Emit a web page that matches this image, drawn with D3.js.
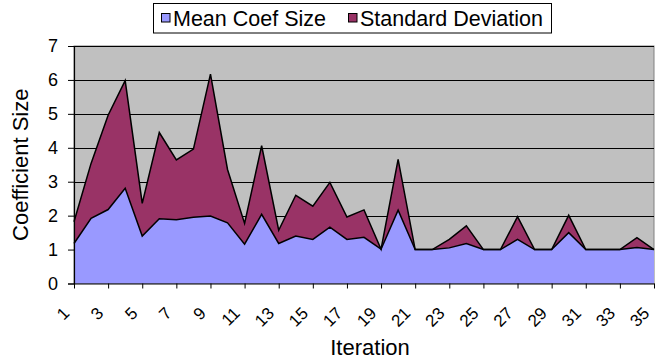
<!DOCTYPE html>
<html>
<head>
<meta charset="utf-8">
<script src="https://cdn.jsdelivr.net/npm/d3@7"></script>
<style>
  html, body { margin: 0; padding: 0; background: #ffffff; }
  svg { display: block; font-family: "Liberation Sans", Arial, sans-serif; }
</style>
</head>
<body>
<svg id="chart" width="665" height="362"></svg>
<script>
// Iterations 1..35
const iterations = d3.range(1, 36);

// Mean coefficient size per iteration
const meanCoefSize = [1.18, 1.92, 2.18, 2.81, 1.40, 1.91, 1.88, 1.95, 1.99, 1.79,
                      1.16, 2.04, 1.18, 1.40, 1.30, 1.66, 1.30, 1.36, 1.01, 2.16,
                      1.00, 1.00, 1.05, 1.18, 1.00, 1.00, 1.30, 1.00, 1.00, 1.50,
                      1.00, 1.00, 1.00, 1.06, 1.00];

// Standard deviation, stacked on top of the mean
const standardDeviation = [0.64, 1.62, 2.78, 3.17, 0.96, 2.54, 1.76, 2.01, 4.18, 1.57,
                           0.61, 2.02, 0.39, 1.20, 0.98, 1.32, 0.66, 0.81, 0.00, 1.50,
                           0.00, 0.00, 0.25, 0.52, 0.00, 0.00, 0.67, 0.00, 0.00, 0.51,
                           0.00, 0.00, 0.00, 0.29, 0.00];

const seriesNames = ["Mean Coef Size", "Standard Deviation"];
const seriesColors = ["#9999FF", "#993366"];
const yTicks = [0, 1, 2, 3, 4, 5, 6, 7];
const xTickLabels = iterations.filter(d => d % 2 === 1);

const svg = d3.select("#chart");
const plot = { left: 74, right: 654, top: 46, bottom: 283.5 };

const x = d3.scalePoint().domain(iterations).range([plot.left, plot.right]);
const y = d3.scaleLinear().domain([0, 7]).range([plot.bottom, plot.top]);

// Plot background
svg.append("rect")
  .attr("x", plot.left).attr("y", plot.top)
  .attr("width", plot.right - plot.left).attr("height", plot.bottom - plot.top)
  .attr("fill", "#C0C0C0")
  .attr("stroke", "#808080").attr("stroke-width", 1);

// Horizontal gridlines
svg.append("g")
  .selectAll("line")
  .data(yTicks.filter(v => v > 0))
  .join("line")
  .attr("x1", plot.left).attr("x2", plot.right)
  .attr("y1", d => Math.round(y(d)) + 0.5).attr("y2", d => Math.round(y(d)) + 0.5)
  .attr("stroke", "#000000").attr("stroke-width", 1);

// Stacked data
const rows = iterations.map((it, i) => ({
  iteration: it,
  [seriesNames[0]]: meanCoefSize[i],
  [seriesNames[1]]: standardDeviation[i]
}));
const stacked = d3.stack().keys(seriesNames)(rows);

const area = d3.area()
  .x(d => x(d.data.iteration))
  .y0(d => y(d[0]))
  .y1(d => y(d[1]));

const topLine = d3.line()
  .x(d => x(d.data.iteration))
  .y(d => y(d[1]));

// Draw the upper band first, then the mean area
[1, 0].forEach(k => {
  svg.append("path")
    .datum(stacked[k])
    .attr("d", area)
    .attr("fill", seriesColors[k])
    .attr("stroke", "none");
});
[1, 0].forEach(k => {
  svg.append("path")
    .datum(stacked[k])
    .attr("d", topLine)
    .attr("fill", "none")
    .attr("stroke", "#000000")
    .attr("stroke-width", 1.5)
    .attr("stroke-linejoin", "miter");
});

// Y axis
const yAxis = svg.append("g")
  .attr("transform", `translate(${plot.left},0)`)
  .call(d3.axisLeft(y).tickValues(yTicks).tickSize(6).tickPadding(10).tickFormat(d3.format("d")));
yAxis.select(".domain").attr("stroke", "#000").attr("stroke-width", 1.2);
yAxis.selectAll(".tick line").attr("stroke", "#000");
yAxis.selectAll(".tick text")
  .attr("font-size", 18)
  .attr("fill", "#000")
  .attr("font-family", "Liberation Sans, Arial, sans-serif");

// X axis
const xAxis = svg.append("g")
  .attr("transform", `translate(0,${plot.bottom})`)
  .call(d3.axisBottom(x).tickValues(xTickLabels).tickSize(5).tickSizeOuter(0));
xAxis.select(".domain").attr("stroke", "#000").attr("stroke-width", 1.2);
xAxis.selectAll(".tick line").attr("stroke", "#000");
xAxis.selectAll(".tick text")
  .attr("font-size", 17)
  .attr("fill", "#000")
  .attr("font-family", "Liberation Sans, Arial, sans-serif")
  .attr("text-anchor", "end")
  .attr("dy", null)
  .attr("y", null)
  .attr("transform", "translate(-8,27) rotate(-45)")
  .attr("dominant-baseline", "central");

// Axis titles
svg.append("text")
  .attr("transform", `translate(28,${(plot.top + plot.bottom) / 2}) rotate(-90)`)
  .attr("text-anchor", "middle")
  .attr("font-size", 22)
  .attr("fill", "#000")
  .text("Coefficient Size");

svg.append("text")
  .attr("x", (plot.left + plot.right) / 2 + 6)
  .attr("y", 355)
  .attr("text-anchor", "middle")
  .attr("font-size", 22)
  .attr("fill", "#000")
  .text("Iteration");

// Legend
const legend = svg.append("g");
legend.append("rect")
  .attr("x", 153.5).attr("y", 3.5).attr("width", 398).attr("height", 29.5)
  .attr("fill", "#ffffff").attr("stroke", "#000").attr("stroke-width", 1);

const legendItems = [
  { name: seriesNames[0], color: seriesColors[0], x: 161.5 },
  { name: seriesNames[1], color: seriesColors[1], x: 348.5 }
];
legendItems.forEach(item => {
  legend.append("rect")
    .attr("x", item.x).attr("y", 13.5).attr("width", 8.5).attr("height", 8.5)
    .attr("fill", item.color).attr("stroke", "#000").attr("stroke-width", 1);
  legend.append("text")
    .attr("x", item.x + 11.5).attr("y", 26)
    .attr("font-size", 21.5)
    .attr("fill", "#000")
    .text(item.name);
});
</script>
</body>
</html>
